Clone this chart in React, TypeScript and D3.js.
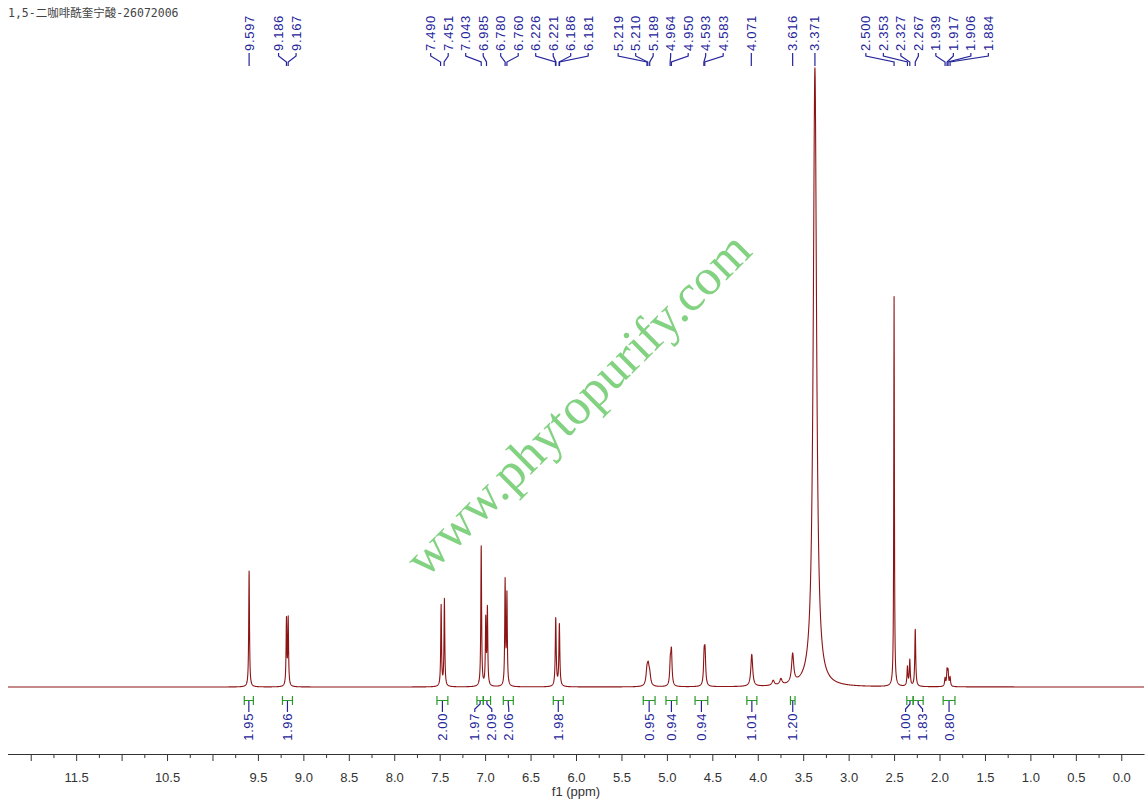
import * as d3 from "d3";
import { useEffect, useRef } from "react";

const W = 1148;
const H = 801;

const title = "1,5-二咖啡酰奎宁酸-26072006";
const watermark = "www.phytopurify.com";

// resolved lines of the spectrum
const linePpm = [
	9.597, 9.186, 9.167, 7.484, 7.448, 7.043, 6.993, 6.975, 6.78, 6.76, 6.223, 6.183,
	5.219, 5.205, 5.189, 4.962, 4.95, 4.59, 4.58, 4.066, 3.83, 3.745, 3.616, 3.371,
	2.5, 2.353, 2.327, 2.267, 1.939, 1.917, 1.906, 1.884,
];
const lineHeight = [
	116, 66, 67, 81, 87, 140, 65, 76, 104, 90, 68, 62,
	14, 16, 10, 22, 33, 28, 30, 32, 5, 6, 29, 619,
	390, 19, 26, 57, 8, 15, 14, 9,
];
const lineWidth = [
	0.005, 0.005, 0.005, 0.005, 0.005, 0.005, 0.005, 0.005, 0.005, 0.005, 0.006, 0.006,
	0.012, 0.012, 0.012, 0.008, 0.008, 0.008, 0.008, 0.012, 0.015, 0.015, 0.014, 0.022,
	0.004, 0.006, 0.006, 0.006, 0.006, 0.006, 0.006, 0.006,
];

// peak picking labels
const peakLabels = [
	"9.597", "9.186", "9.167", "7.490", "7.451", "7.043", "6.985", "6.780", "6.760",
	"6.226", "6.221", "6.186", "6.181", "5.219", "5.210", "5.189", "4.964", "4.950",
	"4.593", "4.583", "4.071", "3.616", "3.371", "2.500", "2.353", "2.327", "2.267",
	"1.939", "1.917", "1.906", "1.884",
];

// integrals: from, to, value
const integFrom = [9.65, 9.23, 7.53, 7.09, 7.02, 6.8, 6.25, 5.26, 5.01, 4.69, 4.12, 3.64, 2.36, 2.29, 1.96];
const integTo = [9.55, 9.12, 7.41, 7.02, 6.94, 6.69, 6.14, 5.13, 4.89, 4.55, 4.01, 3.59, 2.29, 2.18, 1.83];
const integValue = ["1.95", "1.96", "2.00", "1.97", "2.09", "2.06", "1.98", "0.95", "0.94", "0.94", "1.01", "1.20", "1.00", "1.83", "0.80"];

const tickLabels = ["11.5", "10.5", "9.5", "9.0", "8.5", "8.0", "7.5", "7.0", "6.5", "6.0", "5.5", "5.0", "4.5", "4.0", "3.5", "3.0", "2.5", "2.0", "1.5", "1.0", "0.5", "0.0"];

const BLUE = "#24249a";
const GREEN = "#2a9a2a";
const RED = "#8c1414";

// push overlapping labels apart, merged clusters centred on their wanted spot
function spread(wanted: number[], gap: number): number[] {
	const clusters: { n: number; sum: number; c: number }[] = [];
	wanted.forEach((w) => {
		clusters.push({ n: 1, sum: w, c: w });
		while (clusters.length > 1) {
			const b = clusters[clusters.length - 1];
			const a = clusters[clusters.length - 2];
			const aEnd = a.c + ((a.n - 1) * gap) / 2;
			const bStart = b.c - ((b.n - 1) * gap) / 2;
			if (bStart - aEnd >= gap) break;
			clusters.pop();
			a.n += b.n;
			a.sum += b.sum;
			a.c = a.sum / a.n;
		}
	});
	const out: number[] = [];
	clusters.forEach((cl) => {
		for (let i = 0; i < cl.n; i++) out.push(cl.c + (i - (cl.n - 1) / 2) * gap);
	});
	return out;
}

export default function App() {
	const ref = useRef<SVGSVGElement | null>(null);

	useEffect(() => {
		if (!ref.current) return;
		const svg = d3.select(ref.current);
		svg.selectAll("*").remove();

		const x = d3.scaleLinear().domain([12.25, -0.25]).range([8, 1144]);
		const y = d3.scaleLinear().domain([0, 619]).range([687, 68]);

		svg
			.append("text")
			.attr("x", 8)
			.attr("y", 17)
			.attr("font-family", "'DejaVu Sans Mono', 'Noto Sans CJK SC', monospace")
			.attr("font-size", 11.5)
			.attr("fill", "#444")
			.text(title);

		// watermark
		svg
			.append("text")
			.attr("transform", "translate(579,405) rotate(-44.8)")
			.attr("text-anchor", "middle")
			.attr("dy", "0.3em")
			.attr("font-family", "'Liberation Serif', 'DejaVu Serif', serif")
			.attr("font-size", 51.5)
			.attr("fill", "#82d282")
			.text(watermark);

		// spectrum: sample grid plus the line centres so tops are not clipped
		const grid = d3.range(0, 6251).map((i) => 12.25 - i * 0.002).concat(linePpm);
		grid.sort((a, b) => b - a);
		const spec = grid.map((p) => {
			let s = 0;
			for (let k = 0; k < linePpm.length; k++) {
				const d = (p - linePpm[k]) / lineWidth[k];
				s += lineHeight[k] / (1 + d * d);
			}
			return [p, s] as [number, number];
		});
		const line = d3
			.line<[number, number]>()
			.x((d) => x(d[0]))
			.y((d) => y(d[1]));
		svg
			.append("path")
			.attr("d", line(spec))
			.attr("fill", "none")
			.attr("stroke", RED)
			.attr("stroke-width", 1.1)
			.attr("stroke-linejoin", "round");

		// peak labels
		const peakX = peakLabels.map((l) => x(+l));
		const labX = spread(peakX, 17.5);
		const pk = svg.append("g");
		pk.selectAll("path")
			.data(peakLabels)
			.join("path")
			.attr("d", (_, i) => `M${labX[i]},53L${labX[i]},56L${peakX[i]},62L${peakX[i]},66`)
			.attr("fill", "none")
			.attr("stroke", BLUE)
			.attr("stroke-width", 1.2);
		pk.selectAll("text")
			.data(peakLabels)
			.join("text")
			.attr("transform", (_, i) => `translate(${labX[i]},51) rotate(-90)`)
			.attr("dy", "0.35em")
			.attr("font-family", "'Liberation Sans', Arial, sans-serif")
			.attr("font-size", 13)
			.attr("letter-spacing", 0.7)
			.attr("fill", BLUE)
			.text((d) => d);

		// integrals
		const intX = integFrom.map((f, i) => (x(f) + x(integTo[i])) / 2);
		const intLab = spread(intX, 17);
		const ig = svg.append("g");
		ig.selectAll("path.br")
			.data(integValue)
			.join("path")
			.attr("class", "br")
			.attr(
				"d",
				(_, i) =>
					`M${x(integFrom[i])},696V705M${x(integFrom[i])},700.5H${x(integTo[i])}M${x(integTo[i])},696V705`,
			)
			.attr("fill", "none")
			.attr("stroke", GREEN)
			.attr("stroke-width", 1.2);
		ig.selectAll("path.ln")
			.data(integValue)
			.join("path")
			.attr("class", "ln")
			.attr("d", (_, i) => `M${intX[i]},701L${intX[i]},704L${intLab[i]},709L${intLab[i]},712`)
			.attr("fill", "none")
			.attr("stroke", BLUE)
			.attr("stroke-width", 1.2);
		ig.selectAll("text")
			.data(integValue)
			.join("text")
			.attr("transform", (_, i) => `translate(${intLab[i]},713) rotate(-90)`)
			.attr("text-anchor", "end")
			.attr("dy", "0.35em")
			.attr("font-family", "'Liberation Sans', Arial, sans-serif")
			.attr("font-size", 13)
			.attr("letter-spacing", 0.6)
			.attr("fill", BLUE)
			.text((d) => d);

		// axis
		const axisY = 754;
		svg
			.append("g")
			.attr("transform", `translate(0,${axisY})`)
			.call(
				d3
					.axisBottom(x)
					.tickValues(d3.range(0, 49).map((i) => 12.0 - i * 0.25).filter((v) => v % 0.5 !== 0))
					.tickSize(4)
					.tickSizeOuter(0)
					.tickFormat(() => ""),
			)
			.call((g) => g.selectAll("line,path").attr("stroke", "#333"));
		svg
			.append("g")
			.attr("transform", `translate(0,${axisY})`)
			.call(
				d3
					.axisBottom(x)
					.tickValues(d3.range(0, 25).map((i) => 12.0 - i * 0.5))
					.tickSize(7)
					.tickSizeOuter(0)
					.tickPadding(12)
					.tickFormat((d) => {
						const s = (+d).toFixed(1);
						return tickLabels.includes(s) ? s : "";
					}),
			)
			.call((g) => g.select(".domain").remove())
			.call((g) => g.selectAll("line").attr("stroke", "#333"))
			.call((g) =>
				g
					.selectAll("text")
					.attr("font-family", "'Liberation Sans', Arial, sans-serif")
					.attr("font-size", 13)
					.attr("fill", "#333"),
			);
		svg
			.append("line")
			.attr("x1", 8)
			.attr("x2", 1144)
			.attr("y1", axisY + 0.5)
			.attr("y2", axisY + 0.5)
			.attr("stroke", "#333");

		svg
			.append("text")
			.attr("x", (x.range()[0] + x.range()[1]) / 2)
			.attr("y", 796)
			.attr("text-anchor", "middle")
			.attr("font-family", "'Liberation Sans', Arial, sans-serif")
			.attr("font-size", 13)
			.attr("fill", "#333")
			.text("f1 (ppm)");
	}, []);

	return (
		<>
			<style>{"body{margin:0;background:#fff}"}</style>
			<svg ref={ref} width={W} height={H} style={{ display: "block", background: "#fff" }}></svg>
		</>
	);
}
